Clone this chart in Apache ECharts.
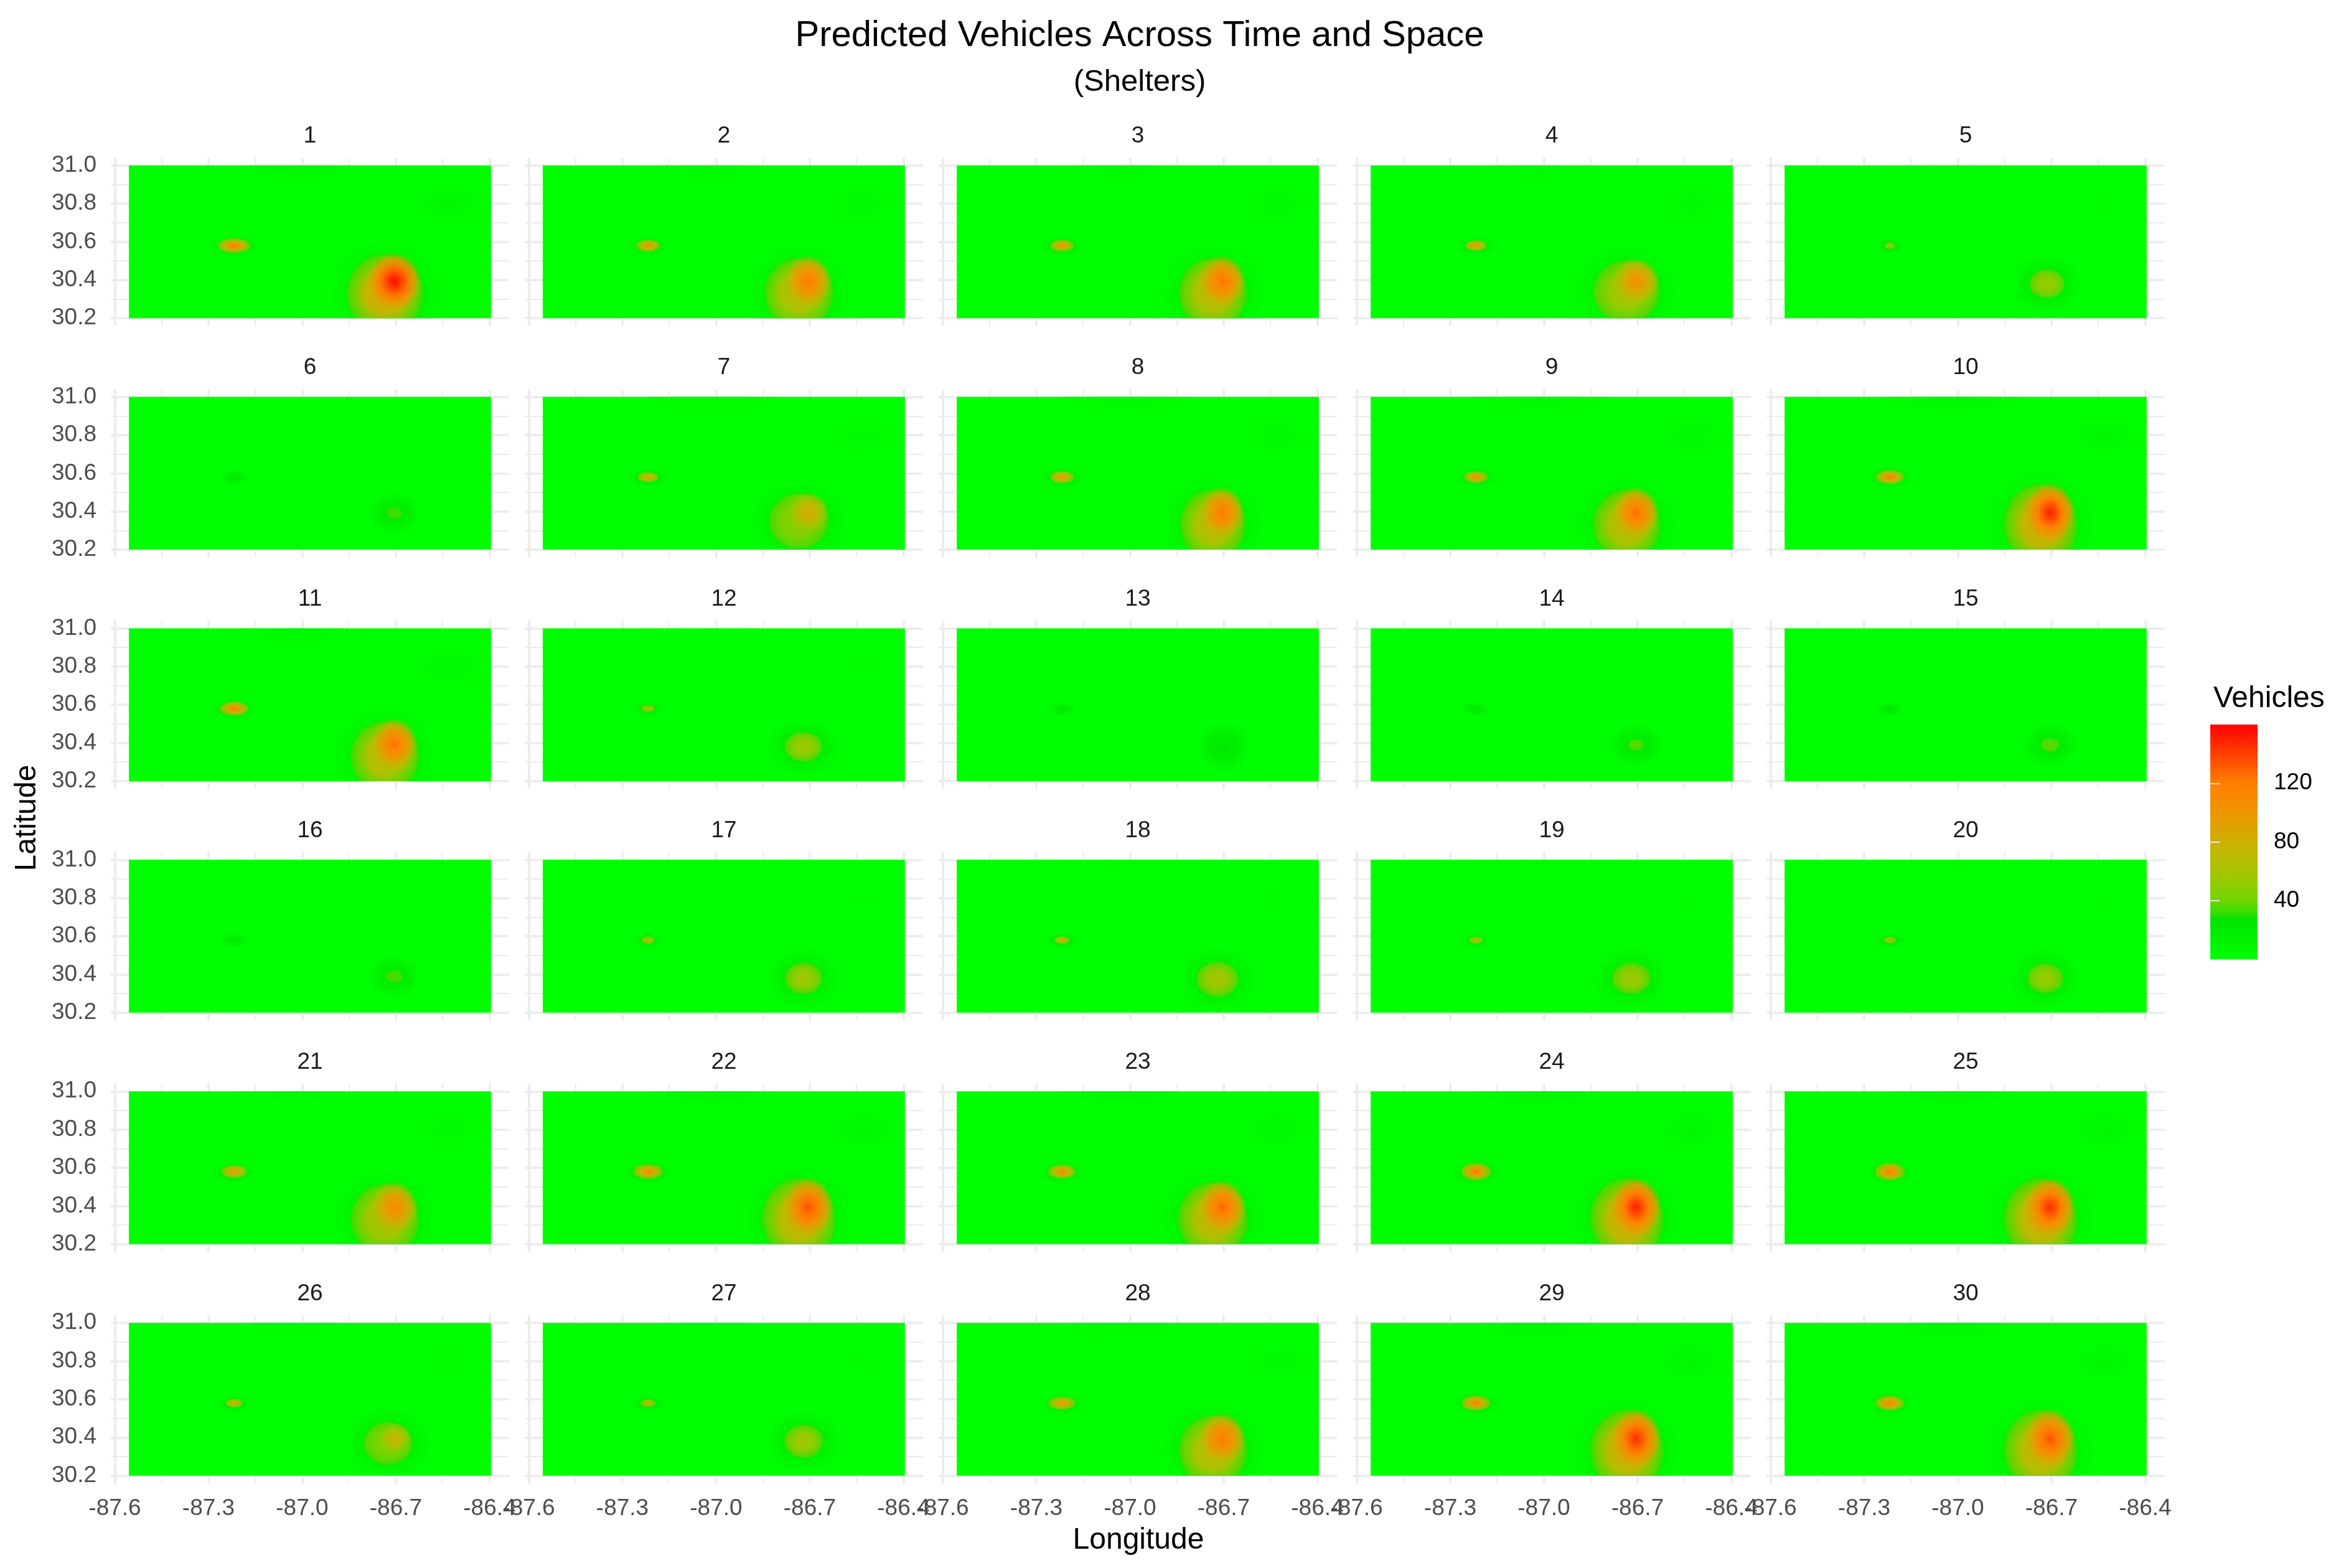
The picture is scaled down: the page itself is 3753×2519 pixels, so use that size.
<!DOCTYPE html>
<html>
<head>
<meta charset="utf-8">
<title>Predicted Vehicles Across Time and Space</title>
<script src="https://cdn.jsdelivr.net/npm/echarts@6/dist/echarts.min.js"></script>
<style>
  html, body { margin: 0; padding: 0; background: #fff; }
  #chart { width: 3753px; height: 2519px; }
</style>
</head>
<body>
<div id="chart"></div>
<script>
// axis ticks
const lonMajor = [-87.6, -87.3, -87.0, -86.7, -86.4];
const lonMinor = [-87.45, -87.15, -86.85, -86.55];
const latMajor = [30.2, 30.4, 30.6, 30.8, 31.0];
const latMinor = [30.3, 30.5, 30.7, 30.9];
const heatLon = [-87.555, -86.395];
const heatLat = [30.2, 31.0];

// colour scale of the legend
const scaleValues = [0, 27, 31, 40, 60, 80, 100, 120, 140, 160];
const scaleColors = ["#00ff00", "#00e400", "#2ee000", "#70d600", "#a8c400", "#ccb000", "#ee9600", "#ff8000", "#ff4000", "#ff0000"];
const legendTicks = [40, 80, 120];

// panels 1..30, values
const eastPeak = [156, 122, 126, 106, 54, 33, 86, 122, 126, 150, 126, 56, 24, 35, 36, 34, 58, 60, 56, 54, 112, 136, 130, 150, 146, 78, 58, 122, 146, 136];
const eastLon = [-86.735, -86.735, -86.735, -86.735, -86.715, -86.705, -86.735, -86.735, -86.735, -86.735, -86.735, -86.72, -86.7, -86.705, -86.705, -86.705, -86.72, -86.72, -86.72, -86.72, -86.735, -86.735, -86.735, -86.735, -86.735, -86.725, -86.72, -86.735, -86.735, -86.735];
const eastLat = [30.33, 30.33, 30.33, 30.34, 30.38, 30.39, 30.35, 30.33, 30.33, 30.33, 30.33, 30.38, 30.38, 30.39, 30.39, 30.39, 30.38, 30.375, 30.38, 30.38, 30.33, 30.33, 30.33, 30.33, 30.33, 30.37, 30.38, 30.33, 30.33, 30.33];
const eastRx = [0.126, 0.112, 0.112, 0.11, 0.058, 0.026, 0.098, 0.107, 0.11, 0.12, 0.112, 0.062, 0.03, 0.026, 0.03, 0.028, 0.062, 0.069, 0.064, 0.06, 0.112, 0.12, 0.114, 0.12, 0.12, 0.08, 0.064, 0.112, 0.12, 0.12];
const eastRy = [0.21, 0.19, 0.19, 0.17, 0.078, 0.03, 0.15, 0.19, 0.19, 0.22, 0.19, 0.08, 0.05, 0.03, 0.035, 0.032, 0.085, 0.095, 0.085, 0.08, 0.19, 0.22, 0.2, 0.22, 0.22, 0.115, 0.09, 0.19, 0.22, 0.22];
const westPeak = [126, 106, 102, 100, 48, 26, 92, 106, 106, 122, 126, 56, 25, 27, 27, 26, 66, 76, 62, 56, 102, 116, 112, 126, 126, 86, 76, 106, 122, 120];
const westRx = [0.057, 0.042, 0.042, 0.038, 0.018, 0.02, 0.036, 0.042, 0.042, 0.05, 0.05, 0.025, 0.016, 0.018, 0.018, 0.02, 0.024, 0.026, 0.024, 0.022, 0.045, 0.052, 0.048, 0.052, 0.052, 0.03, 0.026, 0.047, 0.05, 0.05];
const westRy = [0.042, 0.034, 0.034, 0.03, 0.019, 0.018, 0.028, 0.034, 0.034, 0.04, 0.04, 0.018, 0.015, 0.016, 0.016, 0.016, 0.02, 0.022, 0.02, 0.018, 0.036, 0.042, 0.04, 0.05, 0.05, 0.024, 0.022, 0.036, 0.042, 0.042];
const hazeLevel = [9, 6, 6, 5, 1, 0, 4, 6, 6, 9, 8, 1, 0, 0, 0, 0, 1, 1, 1, 1, 5, 9, 8, 9, 9, 2, 1, 6, 9, 9];

const COLS = 5;
const ROWS = 6;
const STEP_X = 665;
const STEP_Y = 371.9;
const FONT = '"Liberation Sans", Arial, sans-serif';
const GRID_COLOR = "#ebebeb";
const LINE_MAJOR = 3.6;
const LINE_MINOR = 1.8;

const KIND_HEAT = 0, KIND_HAZE = 1, KIND_HALO = 2, KIND_BODY = 3, KIND_CORE = 4, KIND_WEST = 5;

function parseHex(hex) {
  return [1, 3, 5].map((i) => parseInt(hex.substr(i, 2), 16));
}

/** value -> colour on the legend scale */
function valueColor(v, alpha) {
  let i = 0;
  while (i < scaleValues.length - 2 && v > scaleValues[i + 1]) i++;
  const t = Math.max(0, Math.min(1, (v - scaleValues[i]) / (scaleValues[i + 1] - scaleValues[i])));
  const a = parseHex(scaleColors[i]);
  const b = parseHex(scaleColors[i + 1]);
  const c = a.map((x, k) => Math.round(x + (b[k] - x) * t));
  return `rgba(${c[0]},${c[1]},${c[2]},${alpha === undefined ? 1 : alpha})`;
}

function blobStops(kind, v) {
  if (kind === KIND_HAZE) {
    return [[0, valueColor(v, 1)], [1, valueColor(v, 0)]];
  }
  if (kind === KIND_HALO) {
    const dark = Math.min(24, v);
    return [[0, valueColor(dark, 1)], [0.5, valueColor(dark * 0.85, 0.75)], [1, valueColor(dark * 0.6, 0)]];
  }
  if (kind === KIND_BODY) {
    // small spots have no separate core, the top of the body is the peak
    const top = v > 70 ? v * 0.58 : v;
    const edge = Math.min(36, top);
    return [[0, valueColor(top)], [0.5, valueColor(edge + (top - edge) * 0.7)], [0.88, valueColor(edge)], [0.97, valueColor(edge - 4, 0.85)], [1, valueColor(edge - 8, 0)]];
  }
  if (kind === KIND_CORE) {
    const body = v * 0.58;
    return [[0, valueColor(v)], [0.2, valueColor(v * 0.92)], [0.48, valueColor(v * 0.8)], [0.75, valueColor(v * 0.66, 0.75)], [1, valueColor(body, 0)]];
  }
  // west spot
  const rim = Math.min(38, v);
  return [[0, valueColor(v)], [0.2, valueColor(rim + (v - rim) * 0.78)], [0.5, valueColor(rim + (v - rim) * 0.45)], [0.88, valueColor(rim)], [1, valueColor(rim - 10, 0)]];
}

function renderHeat(params, api) {
  const kind = api.value(5);
  const lt = api.coord([heatLon[0], heatLat[1]]);
  const rb = api.coord([heatLon[1], heatLat[0]]);
  const clip = { x: lt[0], y: lt[1], width: rb[0] - lt[0], height: rb[1] - lt[1] };
  if (kind === KIND_HEAT) {
    return { type: "rect", shape: clip, style: { fill: valueColor(api.value(4)) } };
  }
  const c = api.coord([api.value(0), api.value(1)]);
  const rx = Math.abs(api.coord([api.value(0) + api.value(2), api.value(1)])[0] - c[0]);
  const ry = Math.abs(api.coord([api.value(0), api.value(1) + api.value(3)])[1] - c[1]);
  const stops = blobStops(kind, api.value(4)).map((s) => ({ offset: s[0], color: s[1] }));
  return {
    type: "group",
    clipPath: { type: "rect", shape: clip },
    children: [
      {
        type: "circle",
        x: c[0],
        y: c[1],
        scaleX: rx / 100,
        scaleY: ry / 100,
        rotation: kind === KIND_BODY && api.value(3) > 0.14 ? 0.14 : 0,
        shape: { cx: 0, cy: 0, r: 100 },
        style: { fill: new echarts.graphic.RadialGradient(0.5, 0.5, 0.5, stops) },
      },
    ],
  };
}

/** one panel's rows: lon, lat, rx, ry, value, kind */
function panelRows(i) {
  const rows = [[heatLon[0], heatLat[0], 0, 0, 0, KIND_HEAT]];
  if (hazeLevel[i] > 0) {
    rows.push([-87.02, 31.0, 0.24, 0.1, hazeLevel[i], KIND_HAZE]);
    rows.push([-86.53, 30.8, 0.12, 0.12, hazeLevel[i], KIND_HAZE]);
  }
  rows.push([eastLon[i], eastLat[i], eastRx[i] + 0.07, eastRy[i] + 0.09, eastPeak[i], KIND_HALO]);
  rows.push([-87.218, 30.578, westRx[i] + 0.03, westRy[i] + 0.025, westPeak[i], KIND_HALO]);
  if (eastPeak[i] > 28) {
    rows.push([eastLon[i], eastLat[i], eastRx[i], eastRy[i], eastPeak[i], KIND_BODY]);
    if (eastPeak[i] > 70) {
      rows.push([-86.705, 30.393, eastRx[i] * 0.68, eastRy[i] * 0.72, eastPeak[i], KIND_CORE]);
    }
  }
  if (westPeak[i] > 30) {
    rows.push([-87.218, 30.58, westRx[i], westRy[i], westPeak[i], KIND_WEST]);
  }
  return rows;
}

const grids = [], xAxes = [], yAxes = [], series = [], titles = [];

titles.push({
  text: "Predicted Vehicles Across Time and Space",
  left: 1826, top: 24, textAlign: "center",
  textStyle: { fontFamily: FONT, fontSize: 58, fontWeight: "normal", color: "#000" },
});
titles.push({
  text: "(Shelters)",
  left: 1826, top: 103, textAlign: "center",
  textStyle: { fontFamily: FONT, fontSize: 49, fontWeight: "normal", color: "#000" },
});

for (let i = 0; i < COLS * ROWS; i++) {
  const col = i % COLS;
  const row = Math.floor(i / COLS);
  const left = 178 + STEP_X * col;
  const top = 253.4 + STEP_Y * row;
  grids.push({ left: left, top: top, width: 640, height: 270 });

  titles.push({
    text: String(i + 1),
    left: left + 315, top: top - 58, textAlign: "center",
    textStyle: { fontFamily: FONT, fontSize: 37, fontWeight: "normal", color: "#1a1a1a" },
  });

  const xBase = { type: "value", gridIndex: i, min: -87.613, max: -86.337, axisLine: { show: false }, axisTick: { show: false } };
  const yBase = { type: "value", gridIndex: i, min: 30.16, max: 31.04, axisLine: { show: false }, axisTick: { show: false } };
  xAxes.push(Object.assign({}, xBase, {
    axisTick: { show: false, customValues: lonMajor },
    axisLabel: {
      show: row === ROWS - 1, customValues: lonMajor, margin: 22, hideOverlap: false,
      formatter: (v) => v.toFixed(1),
      fontFamily: FONT, fontSize: 37, color: "#4d4d4d",
    },
    splitLine: { show: true, lineStyle: { color: GRID_COLOR, width: LINE_MAJOR } },
  }));
  xAxes.push(Object.assign({}, xBase, {
    axisTick: { show: false, customValues: lonMinor },
    axisLabel: { show: false, customValues: lonMinor },
    splitLine: { show: true, lineStyle: { color: GRID_COLOR, width: LINE_MINOR } },
  }));
  yAxes.push(Object.assign({}, yBase, {
    axisTick: { show: false, customValues: latMajor },
    axisLabel: {
      show: col === 0, customValues: latMajor, margin: 23, hideOverlap: false,
      formatter: (v) => v.toFixed(1),
      fontFamily: FONT, fontSize: 37, color: "#4d4d4d",
    },
    splitLine: { show: true, lineStyle: { color: GRID_COLOR, width: LINE_MAJOR } },
  }));
  yAxes.push(Object.assign({}, yBase, {
    axisTick: { show: false, customValues: latMinor },
    axisLabel: { show: false, customValues: latMinor },
    splitLine: { show: true, lineStyle: { color: GRID_COLOR, width: LINE_MINOR } },
  }));

  series.push({
    type: "custom",
    name: "Panel " + (i + 1),
    xAxisIndex: i * 2,
    yAxisIndex: i * 2,
    renderItem: renderHeat,
    encode: { x: 0, y: 1 },
    silent: true,
    animation: false,
    data: panelRows(i),
  });
}

// legend bar
const legendGrid = grids.length;
const legendMax = 160;
grids.push({ left: 3551, top: 1164, width: 76, height: 377 });
xAxes.push({ type: "value", gridIndex: legendGrid, min: 0, max: 1, show: false });
yAxes.push({
  type: "value", gridIndex: legendGrid, min: 0, max: legendMax, position: "right", z: 10,
  axisLine: { show: false },
  axisTick: { show: true, inside: true, length: 15, customValues: legendTicks, lineStyle: { color: "#fff", width: 1.6 } },
  axisLabel: { customValues: legendTicks, margin: 26, fontFamily: FONT, fontSize: 37, color: "#000" },
  splitLine: { show: false },
});
yAxes.push({
  type: "value", gridIndex: legendGrid, min: 0, max: legendMax, position: "left", z: 10,
  axisLine: { show: false },
  axisTick: { show: true, inside: true, length: 15, customValues: legendTicks, lineStyle: { color: "#fff", width: 1.6 } },
  axisLabel: { show: false, customValues: legendTicks },
  splitLine: { show: false },
});
series.push({
  type: "custom",
  name: "Vehicles legend",
  xAxisIndex: xAxes.length - 1,
  yAxisIndex: yAxes.length - 2,
  silent: true,
  animation: false,
  encode: { x: 0, y: 1 },
  data: [[0, legendMax]],
  renderItem: (params, api) => {
    const lt = api.coord([0, legendMax]);
    const rb = api.coord([1, 0]);
    const stops = scaleValues.map((v, k) => ({ offset: 1 - v / legendMax, color: scaleColors[k] })).reverse();
    return {
      type: "rect",
      shape: { x: lt[0], y: lt[1], width: rb[0] - lt[0], height: rb[1] - lt[1] },
      style: { fill: new echarts.graphic.LinearGradient(0, 0, 0, 1, stops) },
    };
  },
});
titles.push({
  text: "Vehicles",
  left: 3551, top: 1094,
  textStyle: { fontFamily: FONT, fontSize: 48, fontWeight: "normal", color: "#000" },
});

const chart = echarts.init(document.getElementById("chart"), null, { renderer: "canvas" });
chart.setOption({
  backgroundColor: "#fff",
  animation: false,
  title: titles,
  grid: grids,
  xAxis: xAxes,
  yAxis: yAxes,
  series: series,
  graphic: [
    {
      type: "text", x: 1829, y: 2475,
      style: { text: "Longitude", font: "48px " + FONT, fill: "#000", textAlign: "center", textVerticalAlign: "middle" },
    },
    {
      type: "text", x: 44, y: 1314, rotation: Math.PI / 2,
      style: { text: "Latitude", font: "48px " + FONT, fill: "#000", textAlign: "center", textVerticalAlign: "middle" },
    },
  ],
});
</script>
</body>
</html>
